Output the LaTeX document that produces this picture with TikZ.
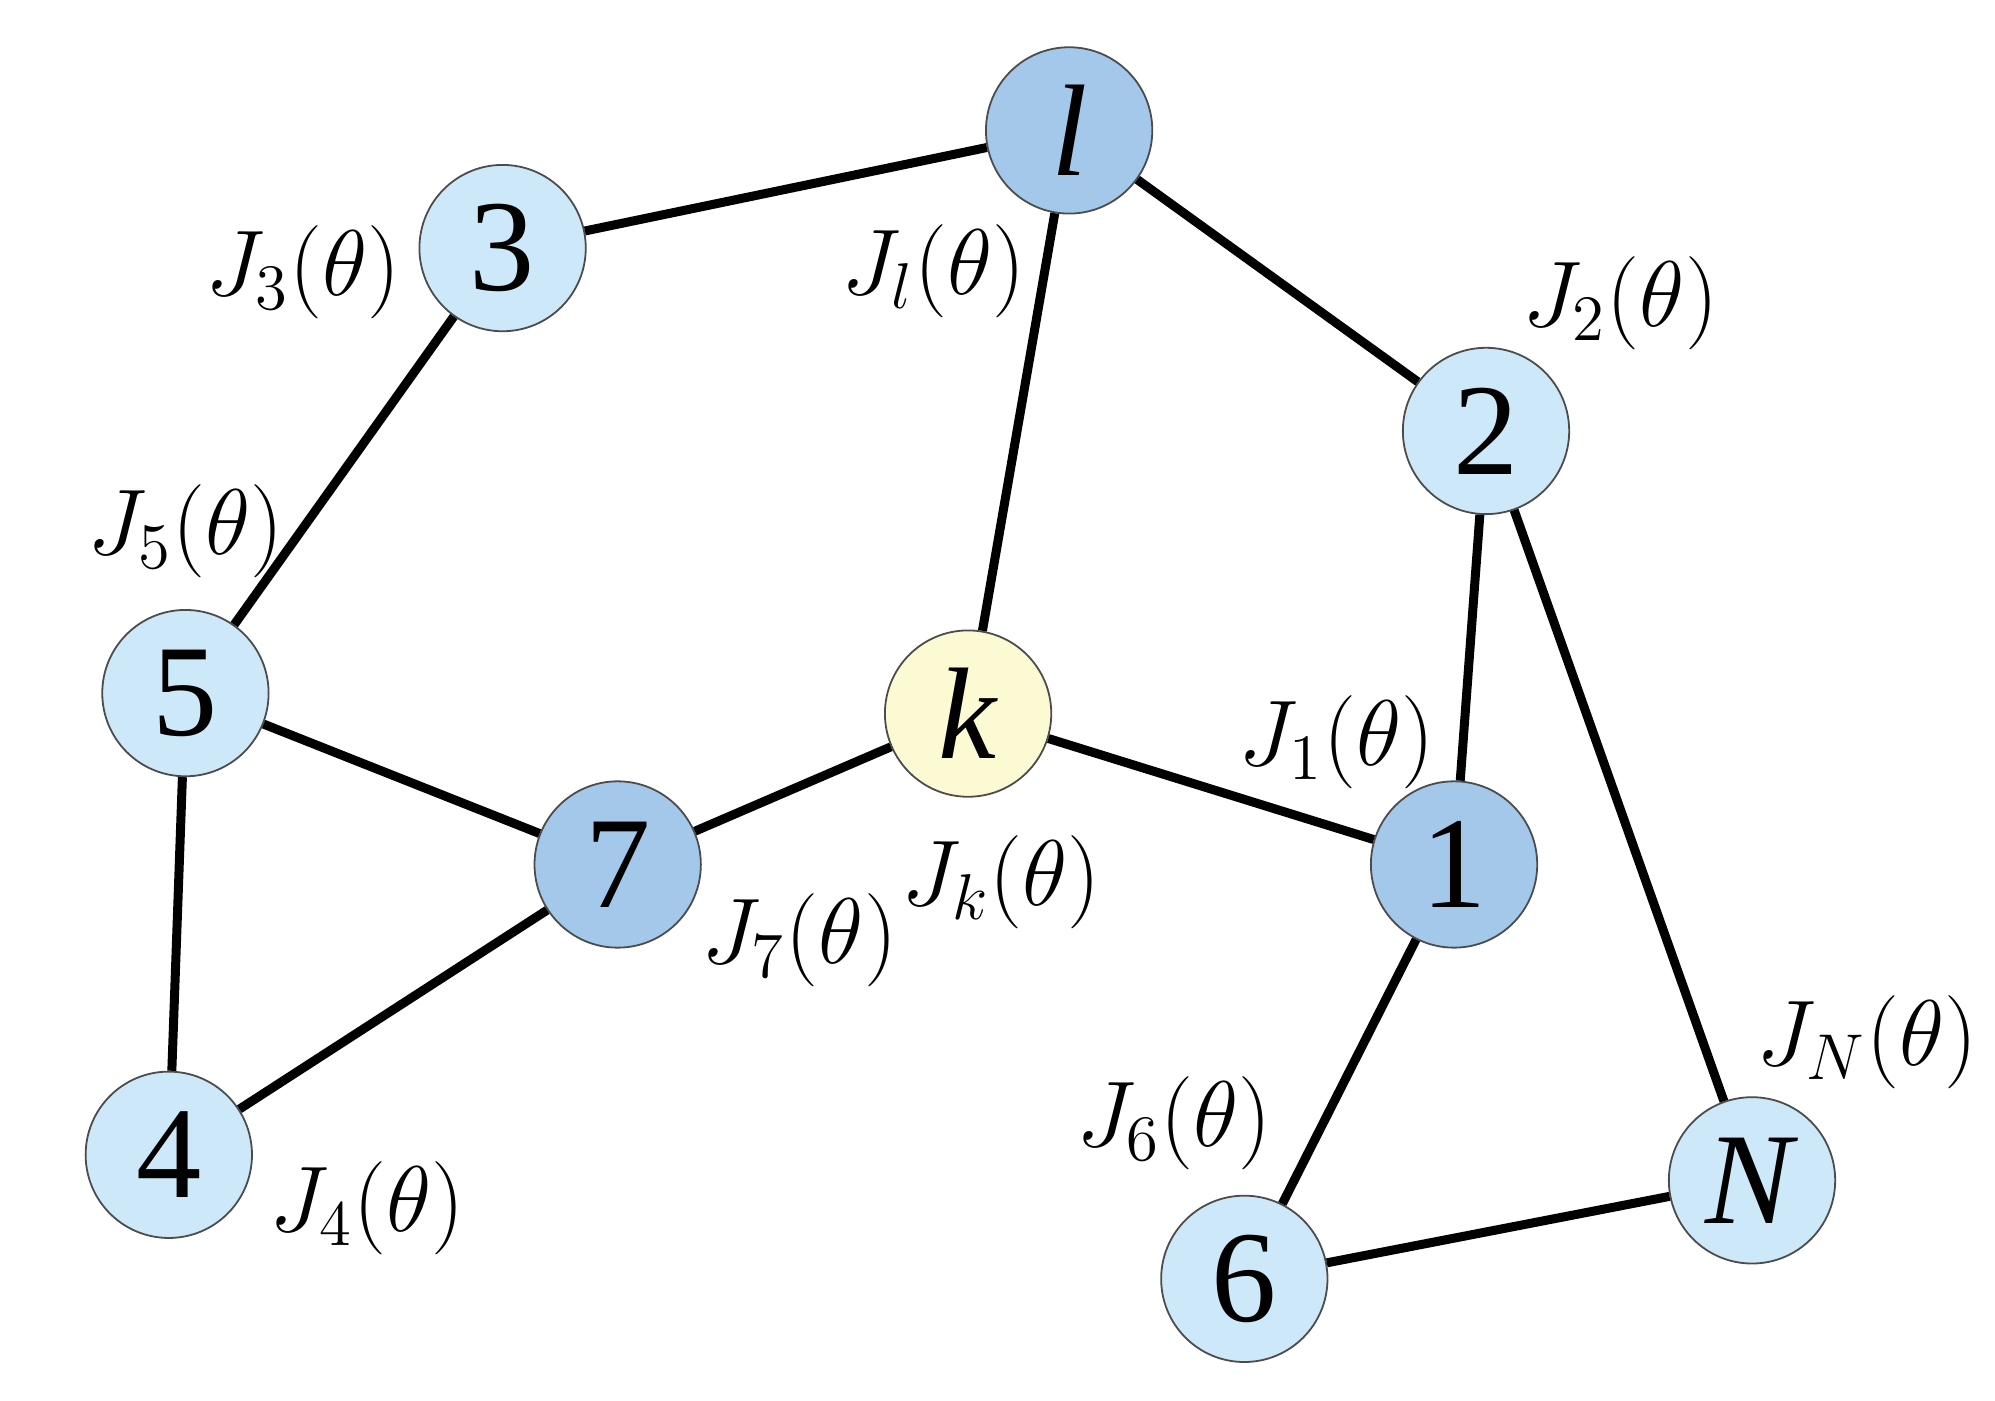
\documentclass[tikz,border=0pt]{standalone}
\usepackage{fontspec}
\setmainfont{Liberation Serif}
\begin{document}
\begin{tikzpicture}[x=0.01cm, y=-0.01cm]
\definecolor{lightnode}{RGB}{205,232,248}
\definecolor{darknode}{RGB}{163,200,234}
\definecolor{yellownode}{RGB}{251,250,210}
\tikzset{agent/.style={circle, draw=black!70, thin, minimum size=1.3cm, inner sep=0pt, fill=lightnode, font=\fontsize{29}{29}\selectfont}}
\tikzset{link/.style={line width=2pt}}
\tikzset{cost/.style={font=\fontsize{20}{20}\selectfont}}
\useasboundingbox (0,0) rectangle (1560,1095);

\node[agent, fill=darknode] (l) at (836,102) {\textit{l}};
\node[agent] (n3) at (393,194) {3};
\node[agent] (n2) at (1162,337) {2};
\node[agent] (n5) at (145,542) {5};
\node[agent, fill=yellownode] (k) at (757,558) {\textit{k}};
\node[agent, fill=darknode] (n7) at (483,676) {7};
\node[agent, fill=darknode] (n1) at (1137,676) {1};
\node[agent] (n4) at (132,903) {4};
\node[agent] (n6) at (973,1000) {6};
\node[agent] (N) at (1370,923) {\textit{N}};

\draw[link] (n3) -- (l);
\draw[link] (l) -- (n2);
\draw[link] (l) -- (k);
\draw[link] (n3) -- (n5);
\draw[link] (n5) -- (n7);
\draw[link] (n5) -- (n4);
\draw[link] (n7) -- (k);
\draw[link] (n7) -- (n4);
\draw[link] (k) -- (n1);
\draw[link] (n2) -- (n1);
\draw[link] (n2) -- (N);
\draw[link] (n1) -- (n6);
\draw[link] (n6) -- (N);

% costs
\node[cost] (c3) at (237,213) {$J_3(\theta)$};
\node[cost] (cl) at (730,212) {$J_l(\theta)$};
\node[cost] (c2) at (1267,237) {$J_2(\theta)$};
\node[cost] (c5) at (145,415) {$J_5(\theta)$};
\node[cost] (c1) at (1045,580) {$J_1(\theta)$};
\node[cost] (ck) at (783,690) {$J_k(\theta)$};
\node[cost] (c7) at (625,735) {$J_7(\theta)$};
\node[cost] (cN) at (1460,815) {$J_N(\theta)$};
\node[cost] (c6) at (918,878) {$J_6(\theta)$};
\node[cost] (c4) at (287,945) {$J_4(\theta)$};
\end{tikzpicture}
\end{document}
